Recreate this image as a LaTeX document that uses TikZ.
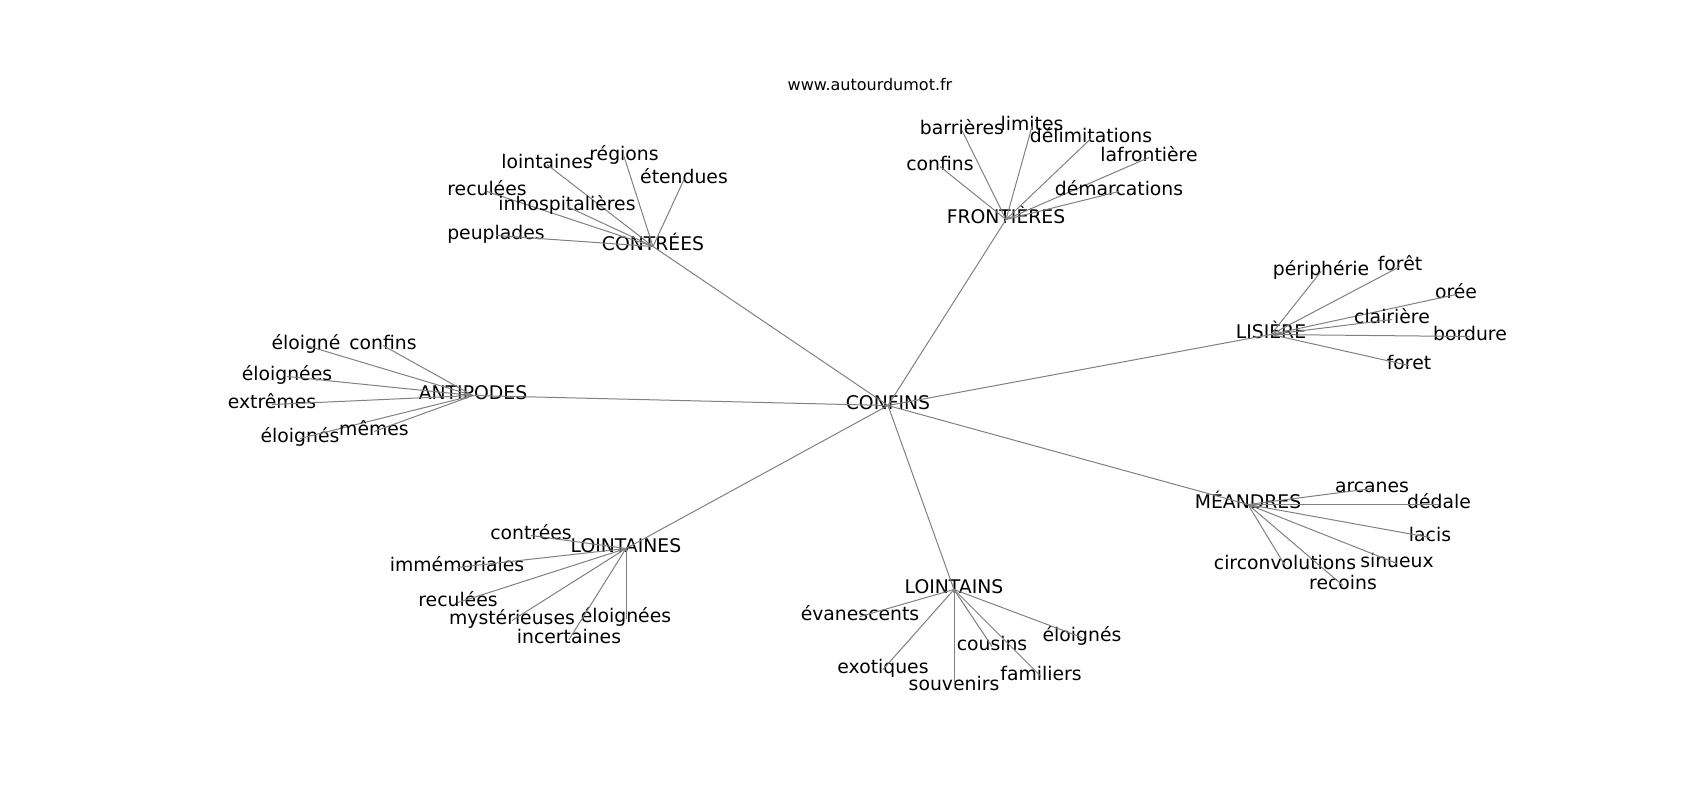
\documentclass[tikz,border=0pt]{standalone}
\usepackage{fontspec}
\setmainfont{DejaVu Sans}
\usepackage{tikz}
\usetikzlibrary{calc}
\definecolor{edgegray}{RGB}{128,128,128}

\tikzset{
    word/.style={inner sep=0pt, anchor=center, text height=0.76em, text depth=0.208em,
        font=\fontsize{14.1}{17}\selectfont},
    edge/.style={draw=edgegray, line width=0.75pt},
}

\begin{document}
\begin{tikzpicture}[x=0.75pt, y=-0.75pt]
        \useasboundingbox (0,-3.5) rectangle (1700,796.5);
        \node[word, font=\fontsize{12}{14}\selectfont] (title) at (870,83) {www.autourdumot.fr};

        % hubs
        \node[word] (confins) at (888,402) {CONFINS};
        \node[word] (contrees) at (653,243) {CONTRÉES};
        \node[word] (frontieres) at (1006,216) {FRONTIÈRES};
        \node[word] (lisiere) at (1271,331) {LISIÈRE};
        \node[word] (antipodes) at (473,392) {ANTIPODES};
        \node[word] (meandres) at (1248,501) {MÉANDRES};
        \node[word] (lointaines) at (626,545) {LOINTAINES};
        \node[word] (lointains) at (954,586) {LOINTAINS};

        \foreach \h in {contrees,frontieres,lisiere,antipodes,meandres,lointaines,lointains}
            \draw[edge] (confins.center) -- (\h.center);

        % leaves
        \foreach \t/\x/\y [count=\i] in {lointaines/547/161, régions/624/153, étendues/684/176,
                reculées/487/188, inhospitalières/567/203, peuplades/496/232} {
            \node[word] (ct\i) at (\x,\y) {\t};
            \draw[edge] (contrees.center) -- (ct\i.center);
        }
        \foreach \t/\x/\y [count=\i] in {barrières/962/127, limites/1032/123, délimitations/1091/135,
                confins/940/163, lafrontière/1149/154, démarcations/1119/188} {
            \node[word] (fr\i) at (\x,\y) {\t};
            \draw[edge] (frontieres.center) -- (fr\i.center);
        }
        \foreach \t/\x/\y [count=\i] in {périphérie/1321/268, forêt/1400/263, orée/1456/291,
                clairière/1392/316, bordure/1470/333, foret/1409/362} {
            \node[word] (ls\i) at (\x,\y) {\t};
            \draw[edge] (lisiere.center) -- (ls\i.center);
        }
        \foreach \t/\x/\y [count=\i] in {éloigné/306/342, confins/383/342, éloignées/287/373,
                extrêmes/272/401, éloignés/300/435, mêmes/374/428} {
            \node[word] (an\i) at (\x,\y) {\t};
            \draw[edge] (antipodes.center) -- (an\i.center);
        }
        \foreach \t/\x/\y [count=\i] in {arcanes/1372/485, dédale/1439/501, lacis/1430/534,
                circonvolutions/1285/562, sinueux/1397/560, recoins/1343/582} {
            \node[word] (me\i) at (\x,\y) {\t};
            \draw[edge] (meandres.center) -- (me\i.center);
        }
        \foreach \t/\x/\y [count=\i] in {contrées/531/532, immémoriales/457/564, reculées/458/599,
                mystérieuses/512/617, éloignées/626/615, incertaines/569/636} {
            \node[word] (le\i) at (\x,\y) {\t};
            \draw[edge] (lointaines.center) -- (le\i.center);
        }
        \foreach \t/\x/\y [count=\i] in {évanescents/860/613, exotiques/883/666, souvenirs/954/683,
                cousins/992/643, familiers/1041/673, éloignés/1082/634} {
            \node[word] (ln\i) at (\x,\y) {\t};
            \draw[edge] (lointains.center) -- (ln\i.center);
        }
\end{tikzpicture}
\end{document}
